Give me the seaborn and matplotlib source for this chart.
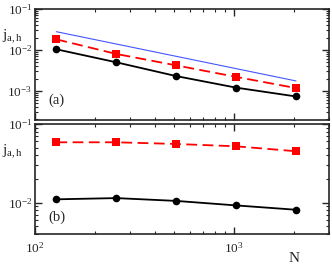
import numpy as np
import pandas as pd
import matplotlib
matplotlib.use("Agg")
import matplotlib.pyplot as plt
import seaborn as sns
from matplotlib.ticker import LogLocator, NullFormatter

N = [128, 256, 512, 1024, 2048]
top_black = [1.04e-2, 5.0e-3, 2.3e-3, 1.2e-3, 7.3e-4]
top_red = [1.82e-2, 8.0e-3, 4.2e-3, 2.2e-3, 1.17e-3]
guide_N = [128, 2048]
guide_j = [2.8e-2, 1.75e-3]
bot_black = [1.10e-2, 1.14e-2, 1.05e-2, 9.2e-3, 8.1e-3]
bot_red = [5.85e-2, 5.85e-2, 5.57e-2, 5.2e-2, 4.5e-2]

sns.set_style("ticks")
plt.rcParams["font.family"] = ["Liberation Serif", "DejaVu Serif"]
plt.rcParams["mathtext.fontset"] = "custom"
plt.rcParams["mathtext.rm"] = "Liberation Serif"
plt.rcParams["mathtext.it"] = "Liberation Serif:italic"

fig = plt.figure(figsize=(3.32, 2.67), dpi=100)
ax1 = fig.add_axes([0.1054, 0.5524, 0.8856, 0.4136])
ax2 = fig.add_axes([0.1054, 0.1236, 0.8856, 0.4120])

def panel(ax, black, red):
    df = pd.DataFrame({"N": N, "black": black, "red": red})
    sns.lineplot(data=df, x="N", y="black", ax=ax, color="black", lw=1.3,
                 marker="o", markersize=5.5, markeredgewidth=0, markeredgecolor="black")
    sns.lineplot(data=df, x="N", y="red", ax=ax, color="red", lw=1.3,
                 marker="s", markersize=5.5, markeredgewidth=0, dashes=False,
                 linestyle=(0, (6, 3)))

panel(ax1, top_black, top_red)
gdf = pd.DataFrame({"N": guide_N, "j": guide_j})
sns.lineplot(data=gdf, x="N", y="j", ax=ax1, color="#4455ff", lw=0.8)
panel(ax2, bot_black, bot_red)

for ax in (ax1, ax2):
    ax.set_xscale("log")
    ax.set_yscale("log")
    ax.set_xlim(100, 3000)
    ax.set_xlabel("")
    ax.set_ylabel("")
    ax.tick_params(which="both", direction="in", top=True, right=True, labelsize=9.5, pad=2)
    ax.tick_params(which="major", length=5, width=1)
    ax.tick_params(which="minor", length=2.5, width=0.8)
    ax.xaxis.set_major_locator(LogLocator(base=10))
    ax.xaxis.set_minor_locator(LogLocator(base=10, subs=np.arange(2, 10)))
    ax.xaxis.set_minor_formatter(NullFormatter())
    ax.yaxis.set_minor_locator(LogLocator(base=10, subs=np.arange(2, 10)))
    ax.yaxis.set_minor_formatter(NullFormatter())
    for s in ax.spines.values():
        s.set_linewidth(1.2)

ax1.set_ylim(10**-3.7, 0.1)
ax1.set_yticks([1e-3, 1e-2, 1e-1])
ax1.set_yticklabels([r"$10^{-3}$", r"$10^{-2}$", r"$10^{-1}$"])
ax1.set_xticklabels([])
ax2.set_ylim(10**-2.4, 0.1)
ax2.set_yticks([1e-2, 1e-1])
ax2.set_yticklabels([r"$10^{-2}$", r"$10^{-1}$"])
ax2.set_xticks([100, 1000])
ax2.set_xticklabels([r"$10^{2}$", r"$10^{3}$"])
ax2.tick_params(axis="x", pad=5)

fig.text(12/332, 1 - 37/267, r"$\mathrm{j_{a,h}}$", fontsize=11, ha="center", va="center")
fig.text(12/332, 1 - 152/267, r"$\mathrm{j_{a,h}}$", fontsize=11, ha="center", va="center")
ax1.text(0.045, 0.17, "(a)", transform=ax1.transAxes, fontsize=10.5, va="center")
ax2.text(0.045, 0.15, "(b)", transform=ax2.transAxes, fontsize=10.5, va="center")
fig.text(294/332, 1 - 259/267, "N", fontsize=11, ha="center", va="center")

fig.savefig("out.png", dpi=100)
